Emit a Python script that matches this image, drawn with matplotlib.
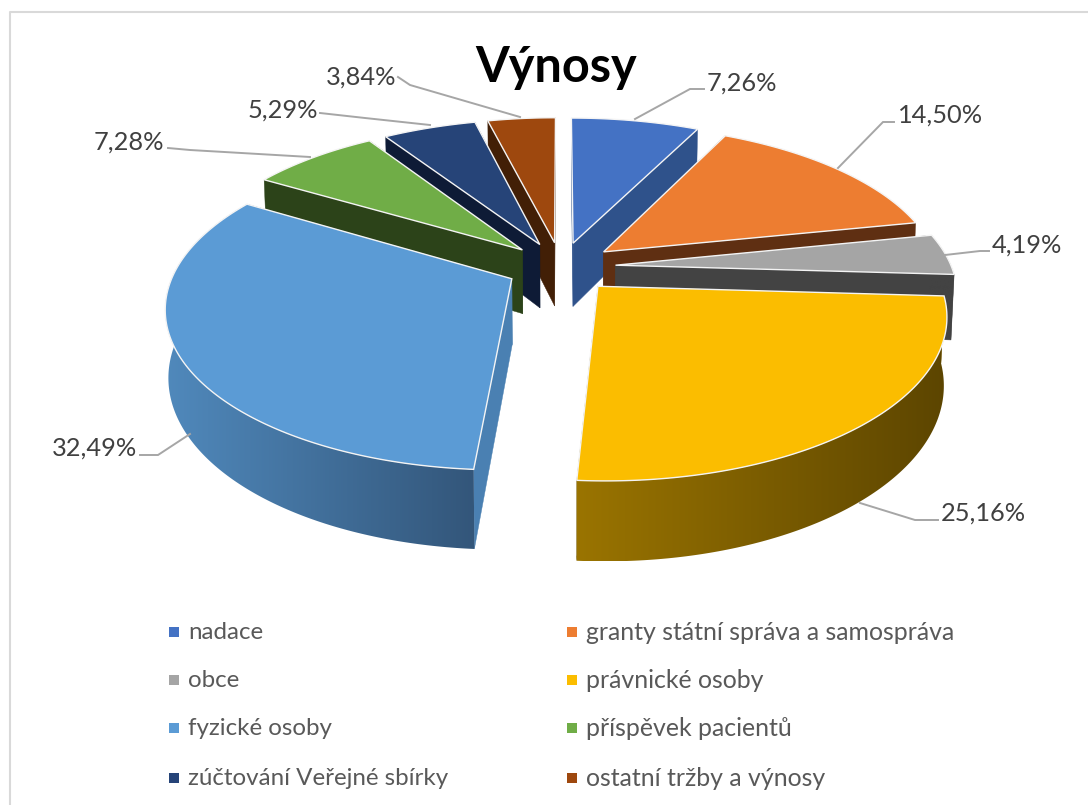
import numpy as np
import matplotlib
matplotlib.use("Agg")
import matplotlib.pyplot as plt
from matplotlib.patches import Polygon, Rectangle
from matplotlib.colors import to_rgb

categories = ["nadace", "granty státní správa a samospráva", "obce", "právnické osoby",
              "fyzické osoby", "příspěvek pacientů", "zúčtování Veřejné sbírky", "ostatní tržby a výnosy"]
values = [7.26, 14.50, 4.19, 25.16, 32.49, 7.28, 5.29, 3.84]
top_colors = ["#4472C4", "#ED7D31", "#A5A5A5", "#FBBD00", "#5B9BD5", "#70AD47", "#264478", "#9E480E"]
side_colors = ["#2F528B", "#5F2F12", "#434343", "#7A5C00", "#4A80B2", "#2C4319", "#0E1B36", "#421F06"]
wall_left = ["#2F528B", "#5F2F12", "#434343", "#9A7400", "#5089BC", "#2C4319", "#0E1B36", "#421F06"]
wall_right = ["#2F528B", "#5F2F12", "#434343", "#5C4500", "#33567A", "#2C4319", "#0E1B36", "#421F06"]
title = "Výnosy"

W, H = 1088, 805
CX, CY = 561, 267
A, B, KX, KY = 336, 154, 0.165, 0.171
EXPLODE = 0.163
DEPTH = 65
SHRINK = 0.008

# label anchor (x, y, ha) and leader-line layout in pixels
label_pos = [(707, 83, "left"), (898, 115, "left"), (992, 245, "left"), (941, 513, "left"),
             (137, 448, "right"), (164, 142, "right"), (318, 110, "right"), (396, 77, "right")]
leaders = [[(635, 119), (690, 89), (704, 89)],
           [(838, 168), (883, 122), (894, 122)],
           [(945, 255), (980, 251), (989, 251)],
           [(860, 503), (915, 520), (938, 520)],
           [(190, 434), (158, 455), (140, 455)],
           [(310, 157), (190, 150), (168, 148)],
           [(430, 125), (365, 118), (320, 113)],
           [(520, 117), (410, 85), (398, 77)]]
legend_rows = [632, 680, 728, 778]
legend_cols = [(174, 188, 17.4), (572, 586, 17.9)]

plt.rcParams["font.family"] = ["Lato", "DejaVu Sans"]
fig = plt.figure(figsize=(W / 100, H / 100), dpi=100, facecolor="white")
ax = fig.add_axes([0, 0, 1, 1])

# outer frame
ax.plot([10, 10, W + 5], [H + 5, 12, 12], color="#D9D9D9", lw=1.5, zorder=0)


def project(u, v, depth=0.0):
    sx = 1 / (1 - KX * v)
    sy = 1 / (1 - KY * v)
    x = A * u * sx
    if depth:
        x *= 1 - SHRINK
    return CX + x, CY + B * v * sy + depth * sy


def point(theta, r, mid):
    """theta clockwise from the top; the slice is pushed out along its middle angle."""
    u = r * np.sin(theta) + EXPLODE * np.sin(mid)
    v = -r * np.cos(theta) - EXPLODE * np.cos(mid)
    return u, v


total = sum(values)
edges = np.radians(np.concatenate([[0], np.cumsum(values)]) / total * 360)
slices = []
for i in range(len(values)):
    t0, t1 = edges[i], edges[i + 1]
    slices.append((-np.cos((t0 + t1) / 2), i, t0, t1))

z = 2
for _, i, t0, t1 in sorted(slices):
    mid = (t0 + t1) / 2
    th = np.linspace(t0, t1, max(int(np.degrees(t1 - t0) * 1.5), 6))
    apex_uv = point(mid, 0, mid)
    outer_uv = [point(t, 1, mid) for t in th]

    # radial walls
    for uv in (outer_uv[0], outer_uv[-1]):
        quad = [project(*apex_uv), project(*uv), project(*uv, DEPTH), project(*apex_uv, DEPTH)]
        ax.add_patch(Polygon(quad, closed=True, fc=side_colors[i], ec=side_colors[i], lw=0.3, zorder=z))
        z += 1

    # curved outer wall: a left-to-right gradient clipped to the wall outline
    if any(uv[1] > 0 for uv in outer_uv):
        upper = [project(*uv) for uv in outer_uv]
        lower = [project(*uv, DEPTH) for uv in outer_uv]
        outline = upper + lower[::-1]
        xs = [p[0] for p in outline]
        ys = [p[1] for p in outline]
        c0, c1 = np.array(to_rgb(wall_left[i])), np.array(to_rgb(wall_right[i]))
        t = np.linspace(0, 1, 256)[None, :, None]
        grad = c0[None, None, :] + (c1 - c0)[None, None, :] * t
        im = ax.imshow(grad, extent=(min(xs), max(xs), max(ys), min(ys)), aspect="auto",
                       interpolation="bilinear", zorder=z)
        clip = Polygon(outline, closed=True, transform=ax.transData, fc="none", ec="none")
        ax.add_patch(clip)
        im.set_clip_path(clip)
        z += 1

    # top face
    pts = [project(*apex_uv)] + [project(*uv) for uv in outer_uv]
    ax.add_patch(Polygon(pts, closed=True, fc=top_colors[i], ec="#F4F4F4", lw=1.0,
                         joinstyle="miter", zorder=z))
    z += 1

# leader lines and labels
for i, v in enumerate(values):
    xs, ys = zip(*leaders[i])
    ax.plot(xs, ys, color="#A6A6A6", lw=1.4, zorder=z, solid_joinstyle="miter")
    x, y, ha = label_pos[i]
    ax.text(x, y, f"{v:.2f}".replace(".", ",") + "%", ha=ha, va="center",
            fontsize=18.3, color="#404040", zorder=z + 1)

ax.text(556, 67, title, ha="center", va="center", fontsize=35, fontweight="bold",
        color="black", zorder=z + 1)

# legend
for i, name in enumerate(categories):
    row, col = i // 2, i % 2
    y = legend_rows[row]
    xm, xt, fs = legend_cols[col]
    ax.add_patch(Rectangle((xm - 5, y - 5), 10, 10, fc=top_colors[i], ec="none", zorder=z))
    ax.text(xt, y, name, ha="left", va="center", fontsize=fs, color="#595959", zorder=z)

ax.set_xlim(0, W)
ax.set_ylim(H, 0)
ax.axis("off")
fig.savefig("out.png", dpi=100)
